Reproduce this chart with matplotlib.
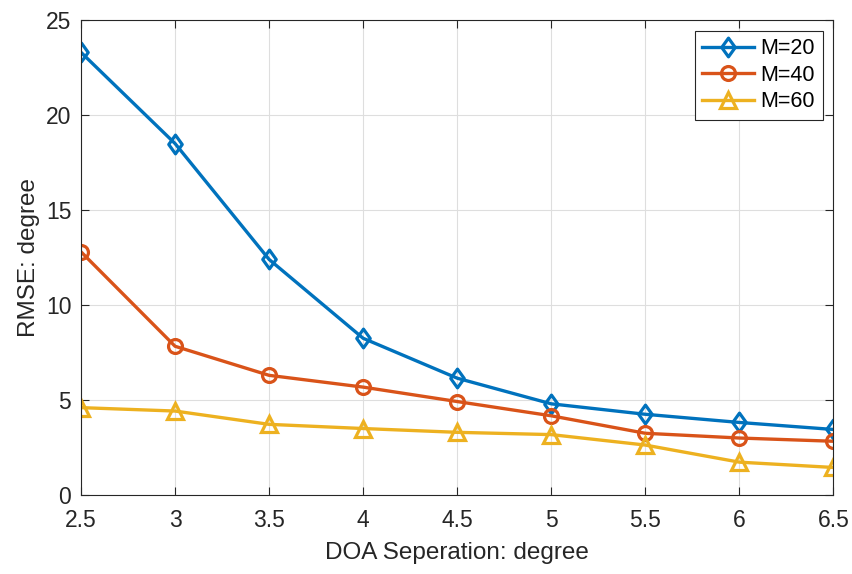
import matplotlib
matplotlib.use("Agg")
import matplotlib.pyplot as plt
from matplotlib.path import Path

plt.rcParams['font.family'] = ['Liberation Sans', 'DejaVu Sans']

sep = [2.5, 3, 3.5, 4, 4.5, 5, 5.5, 6, 6.5]
rmse_m20 = [23.3, 18.5, 12.4, 8.25, 6.15, 4.8, 4.25, 3.82, 3.45]
rmse_m40 = [12.8, 7.83, 6.3, 5.68, 4.92, 4.17, 3.25, 3.0, 2.83]
rmse_m60 = [4.6, 4.42, 3.72, 3.5, 3.3, 3.18, 2.63, 1.73, 1.45]

# matlab style diamond, a bit taller than wide
diamond = Path([(0, 1), (0.72, 0), (0, -1), (-0.72, 0), (0, 1)],
               [Path.MOVETO, Path.LINETO, Path.LINETO, Path.LINETO, Path.CLOSEPOLY])

series = [
    (rmse_m20, 'M=20', diamond, 13.5, (0, 0.447, 0.741)),
    (rmse_m40, 'M=40', 'o', 10, (0.85, 0.325, 0.098)),
    (rmse_m60, 'M=60', '^', 11.5, (0.929, 0.694, 0.125)),
]
dark = (0.15, 0.15, 0.15)

fig = plt.figure(figsize=(8.53, 5.74), dpi=100)
ax = fig.add_axes([0.095, 0.1376, 0.882, 0.8274])

for y, lab, mk, ms, col in series:
    ax.plot(sep, y, color=col, lw=2.4, marker=mk, ms=ms, mfc='none',
            mec=col, mew=2.3, label=lab)

ax.set_xlim(2.5, 6.5)
ax.set_ylim(0, 25)
ax.set_xticks(sep)
ax.set_xticklabels(['2.5', '3', '3.5', '4', '4.5', '5', '5.5', '6', '6.5'])
ax.set_yticks([0, 5, 10, 15, 20, 25])
ax.grid(True, color=(0.87, 0.87, 0.87), lw=0.8)
ax.set_axisbelow(True)
for s in ax.spines.values():
    s.set_color(dark)
    s.set_linewidth(0.8)
ax.tick_params(direction='in', length=6, labelsize=16.5, colors=dark,
               top=True, right=True)
ax.tick_params(axis='x', pad=10)
ax.tick_params(axis='y', pad=7)
ax.set_xlabel('DOA Seperation: degree', fontsize=17.5, color=dark, labelpad=7)
ax.set_ylabel('RMSE: degree', fontsize=17.5, color=dark, labelpad=4)

leg = ax.legend(loc='upper right', fontsize=15.5, fancybox=False, framealpha=1,
                edgecolor=dark, handlelength=2.4, handletextpad=0.3,
                borderaxespad=0.5, labelspacing=0.25, borderpad=0.35)
leg.get_frame().set_linewidth(0.8)

fig.savefig('out.png', dpi=100)
